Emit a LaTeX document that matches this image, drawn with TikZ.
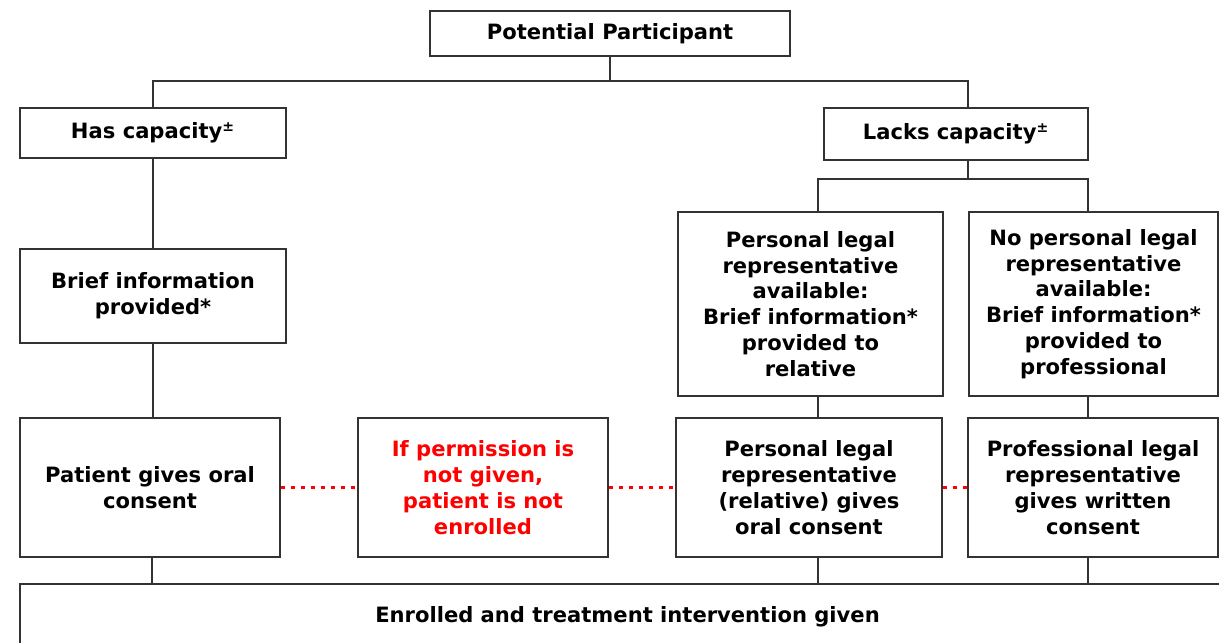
\documentclass[tikz,border=0pt]{standalone}
\usepackage{fontspec}
\setmainfont{DejaVu Sans}
\usepackage{tikz}
\usepackage{xcolor}

\begin{document}
\begin{tikzpicture}[x=0.02cm,y=-0.02cm,
  box/.style={draw=black!80, line width=0.9pt, fill=white, align=center, inner sep=2pt,
    font=\bfseries\fontsize{12}{14.7}\selectfont},
  link/.style={draw=black!80, line width=0.9pt},
  nogo/.style={draw=red, line width=1.7pt, dash pattern=on 2.3pt off 3.4pt}]
\clip (0,0) rectangle (1219,642);
\node[box, minimum width=7.2cm, minimum height=0.9cm] (pp) at (610,33.5) {Potential Participant};
\node[box, minimum width=5.32cm, minimum height=1cm] (has) at (153,133) {Has capacity\textsuperscript{±}};
\node[box, minimum width=5.28cm, minimum height=1.04cm] (lacks) at (956,134) {Lacks capacity\textsuperscript{±}};
\node[box, minimum width=5.32cm, minimum height=1.88cm] (brief) at (153,296) {Brief information\\provided*};
\node[box, minimum width=5.3cm, minimum height=3.68cm] (relinfo) at (810.5,304)
  {Personal legal\\representative\\available:\\Brief information*\\provided to\\relative};
\node[box, minimum width=4.98cm, minimum height=3.68cm] (profinfo) at (1093.5,304)
  {No personal legal\\representative\\available:\\Brief information*\\provided to\\professional};
\node[box, minimum width=5.2cm, minimum height=2.78cm] (oral) at (150,487.5) {Patient gives oral\\consent};
\node[box, text=red, minimum width=5cm, minimum height=2.78cm] (notgiven) at (483,487.5)
  {If permission is\\not given,\\patient is not\\enrolled};
\node[box, minimum width=5.32cm, minimum height=2.78cm] (relcons) at (809,487.5)
  {Personal legal\\representative\\(relative) gives\\oral consent};
\node[box, minimum width=5cm, minimum height=2.78cm] (profcons) at (1093,487.5)
  {Professional legal\\representative\\gives written\\consent};
\node[box, minimum width=24.3cm, minimum height=1.32cm] (enrolled) at (627.5,617)
  {Enrolled and treatment intervention given};
\coordinate (fork) at (610,81);
\draw[link] (pp.south) -- (fork);
\draw[link] (has.north) |- (fork) -| ([xshift=0.24cm]lacks.north);
\draw[link] (has.south) -- (brief.north);
\draw[link] (brief.south) -- ++(0,75);
\draw[link] ([xshift=0.24cm]lacks.south) -- ++(0,18);
\draw[link] ([xshift=0.15cm]relinfo.north) |- ([xshift=0.24cm,yshift=-0.36cm]lacks.south) -| ([xshift=-0.11cm]profinfo.north);
\draw[link] ([xshift=0.15cm]relinfo.south) -- ++(0,22);
\draw[link] ([xshift=-0.11cm]profinfo.south) -- ++(0,22);
\draw[link] ([xshift=0.04cm]oral.south) -- ++(0,27);
\draw[link] ([xshift=0.18cm]relcons.south) -- ++(0,27);
\draw[link] ([xshift=-0.1cm]profcons.south) -- ++(0,27);
\draw[nogo] (oral.east) -- (notgiven.west);
\draw[nogo] (notgiven.east) -- (relcons.west);
\draw[nogo] (relcons.east) -- (profcons.west);
\end{tikzpicture}
\end{document}
